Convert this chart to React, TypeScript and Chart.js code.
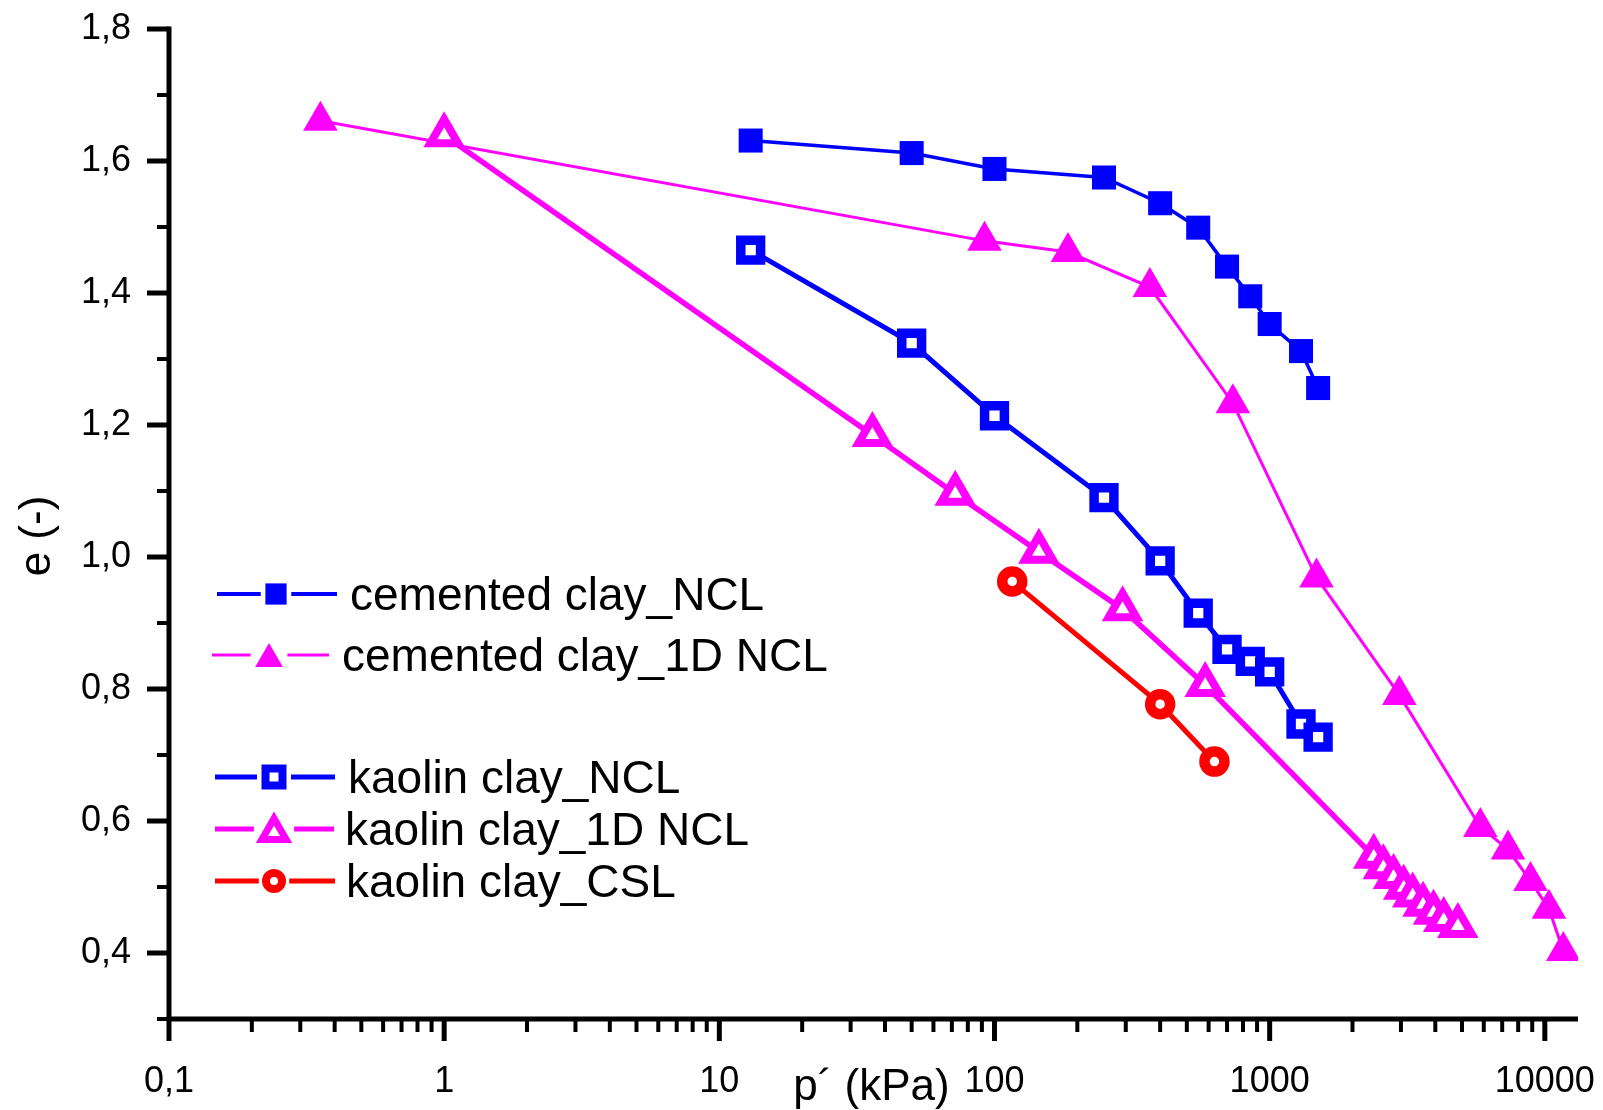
import React, { useEffect, useRef } from "react";
import { Chart, registerables } from "chart.js";

Chart.register(...registerables);

// ---- data: p' (kPa) and void ratio e (-) ----
const cementedNclP = [13, 50, 100, 250, 400, 550, 700, 850, 1000, 1300, 1500];
const cementedNclE = [1.631, 1.612, 1.588, 1.575, 1.536, 1.499, 1.44, 1.395, 1.353, 1.312, 1.256];

const cemented1dP = [0.355, 92, 185, 367, 735, 1480, 2960, 5830, 7350, 8870, 10350, 11670];
const cemented1dE = [1.661, 1.479, 1.462, 1.409, 1.233, 0.969, 0.791, 0.591, 0.557, 0.509, 0.467, 0.403];

const kaolinNclP = [13, 50, 100, 250, 400, 550, 700, 850, 1000, 1300, 1500];
const kaolinNclE = [1.465, 1.324, 1.214, 1.09, 0.994, 0.915, 0.86, 0.842, 0.826, 0.747, 0.727];

const kaolin1dP = [1, 36, 72, 145, 292, 583, 2390, 2590, 2820, 3070, 3310, 3610, 3940, 4290, 4830];
const kaolin1dE = [1.639, 1.185, 1.096, 1.008, 0.921, 0.806, 0.546, 0.53, 0.515, 0.499, 0.487, 0.473, 0.461, 0.45, 0.441];

const kaolinCslP = [116, 400, 630];
const kaolinCslE = [0.963, 0.777, 0.69];

const seriesLabels = [
  "cemented clay_NCL",
  "cemented clay_1D NCL",
  "kaolin clay_NCL",
  "kaolin clay_1D NCL",
  "kaolin clay_CSL",
];

const xMin = 0.1;
const xMax = 13200;
const yMin = 0.3;
const yMax = 1.8;
const xDecades = [0.1, 1, 10, 100, 1000, 10000];
const yTickTenths = [3, 4, 5, 6, 7, 8, 9, 10, 11, 12, 13, 14, 15, 16, 17, 18];

const xTitle = "p\u00B4 (kPa)";
const yTitle = "e (-)";

const BLUE = "#0000ff";
const MAGENTA = "#ff00ff";
const RED = "#ff0000";
const FONT = "'Liberation Sans', Arial, Helvetica, sans-serif";

const toPts = (xs: number[], ys: number[]) => xs.map((x, i) => ({ x, y: ys[i] }));

function isMajorX(v: number) {
  const l = Math.log10(v);
  return Math.abs(l - Math.round(l)) < 1e-9;
}

function drawMarker(ctx: CanvasRenderingContext2D, style: string, x: number, y: number, r: number, bw: number, fill: string, stroke: string) {
  ctx.beginPath();
  if (style === "rect") {
    const s = Math.SQRT1_2 * r;
    ctx.rect(x - s, y - s, 2 * s, 2 * s);
  } else if (style === "triangle") {
    let rad = 0;
    ctx.moveTo(x + Math.sin(rad) * r, y - Math.cos(rad) * r);
    rad += (2 * Math.PI) / 3;
    ctx.lineTo(x + Math.sin(rad) * r, y - Math.cos(rad) * r);
    rad += (2 * Math.PI) / 3;
    ctx.lineTo(x + Math.sin(rad) * r, y - Math.cos(rad) * r);
    ctx.closePath();
  } else {
    ctx.arc(x, y, r, 0, Math.PI * 2);
    ctx.closePath();
  }
  ctx.fillStyle = fill;
  ctx.fill();
  if (bw > 0) {
    ctx.lineWidth = bw;
    ctx.strokeStyle = stroke;
    ctx.lineJoin = "miter";
    ctx.stroke();
  }
}

const axesPlugin = {
  id: "customAxes",
  beforeDatasetsDraw(chart: any) {
    const { ctx, chartArea: a, scales } = chart;
    const xs = scales.x;
    const ys = scales.y;
    ctx.save();
    ctx.strokeStyle = "#000";
    ctx.lineCap = "butt";
    ctx.lineWidth = 5;
    ctx.beginPath();
    ctx.moveTo(a.left, a.top - 2.5);
    ctx.lineTo(a.left, a.bottom);
    ctx.stroke();
    ctx.beginPath();
    ctx.moveTo(a.left - 2.5, a.bottom);
    ctx.lineTo(a.right, a.bottom);
    ctx.stroke();
    xs.ticks.forEach((t: any) => {
      const px = xs.getPixelForValue(t.value);
      const major = isMajorX(t.value);
      ctx.lineWidth = major ? 5 : 4;
      ctx.beginPath();
      ctx.moveTo(px, a.bottom);
      ctx.lineTo(px, a.bottom + (major ? 22 : 13));
      ctx.stroke();
    });
    ys.ticks.forEach((t: any) => {
      const py = ys.getPixelForValue(t.value);
      const major = Math.round(t.value * 10) % 2 === 0;
      ctx.lineWidth = major ? 5 : 4;
      ctx.beginPath();
      ctx.moveTo(a.left, py);
      ctx.lineTo(a.left - (major ? 22 : 12), py);
      ctx.stroke();
    });
    ctx.restore();
  },
  afterDraw(chart: any) {
    const { ctx, chartArea: a } = chart;
    ctx.save();
    // axis titles
    ctx.fillStyle = "#000";
    ctx.font = `44px ${FONT}`;
    ctx.textAlign = "center";
    ctx.textBaseline = "middle";
    ctx.fillText(xTitle, (a.left + a.right) / 2 - 2, 1088);
    ctx.save();
    ctx.translate(38, 536);
    ctx.rotate(-Math.PI / 2);
    ctx.fillText(yTitle, 0, 0);
    ctx.restore();

    // legend inside the plot area
    const entries = [
      { ds: 0, y: 594, x1: 217, x2: 337, m: 276, tx: 350, r: 15, bw: 0, lw: 4 },
      { ds: 1, y: 655, x1: 212, x2: 329, m: 269, tx: 342, r: 16, bw: 0, lw: 3 },
      { ds: 2, y: 777, x1: 215, x2: 335, m: 274, tx: 348, r: 12, bw: 8, lw: 5 },
      { ds: 3, y: 829, x1: 215, x2: 334, m: 274, tx: 345, r: 14, bw: 7, lw: 5 },
      { ds: 4, y: 881, x1: 215, x2: 335, m: 274, tx: 346, r: 8, bw: 8, lw: 5 },
    ];
    entries.forEach((e) => {
      const d = chart.data.datasets[e.ds];
      const half = e.r * (d.pointStyle === "rect" ? 0.75 : 0.9) + e.bw / 2 + 4;
      ctx.strokeStyle = d.borderColor;
      ctx.lineWidth = e.lw;
      ctx.lineCap = "butt";
      ctx.beginPath();
      ctx.moveTo(e.x1, e.y);
      ctx.lineTo(e.m - half, e.y);
      ctx.moveTo(e.m + half, e.y);
      ctx.lineTo(e.x2, e.y);
      ctx.stroke();
      drawMarker(ctx, d.pointStyle, e.m, d.pointStyle === "triangle" ? e.y + e.r * 0.25 : e.y, e.r, e.bw, d.pointBackgroundColor, d.pointBorderColor);
      ctx.fillStyle = "#000";
      ctx.font = `46px ${FONT}`;
      ctx.textAlign = "left";
      ctx.textBaseline = "alphabetic";
      ctx.fillText(d.label, e.tx, e.y + 16);
    });
    ctx.restore();
  },
};

export default function App() {
  const ref = useRef<HTMLCanvasElement | null>(null);

  useEffect(() => {
    if (!ref.current) return;
    const xTickValues: number[] = [];
    xDecades.forEach((d) => {
      for (let k = 1; k <= 9; k++) {
        const v = parseFloat((d * k).toPrecision(6));
        if (v <= xMax) xTickValues.push(v);
      }
    });
    const yTickValues = yTickTenths.map((t) => t / 10);

    const chart = new Chart(ref.current, {
      type: "line",
      data: {
        datasets: [
          {
            label: seriesLabels[0],
            data: toPts(cementedNclP, cementedNclE),
            borderColor: BLUE,
            borderWidth: 3.5,
            pointStyle: "rect",
            pointRadius: 17,
            pointBorderWidth: 0,
            pointBackgroundColor: BLUE,
            pointBorderColor: BLUE,
          },
          {
            label: seriesLabels[1],
            data: toPts(cemented1dP, cemented1dE),
            borderColor: MAGENTA,
            borderWidth: 3,
            pointStyle: "triangle",
            pointRadius: 20,
            pointBorderWidth: 0,
            pointBackgroundColor: MAGENTA,
            pointBorderColor: MAGENTA,
          },
          {
            label: seriesLabels[2],
            data: toPts(kaolinNclP, kaolinNclE),
            borderColor: BLUE,
            borderWidth: 5,
            pointStyle: "rect",
            pointRadius: 14,
            pointBorderWidth: 9.5,
            pointBackgroundColor: "#ffffff",
            pointBorderColor: BLUE,
          },
          {
            label: seriesLabels[3],
            data: toPts(kaolin1dP, kaolin1dE),
            borderColor: MAGENTA,
            borderWidth: 5.5,
            pointStyle: "triangle",
            pointRadius: 16,
            pointBorderWidth: 8,
            pointBackgroundColor: "#ffffff",
            pointBorderColor: MAGENTA,
          },
          {
            label: seriesLabels[4],
            data: toPts(kaolinCslP, kaolinCslE),
            borderColor: RED,
            borderWidth: 5,
            pointStyle: "circle",
            pointRadius: 10,
            pointBorderWidth: 10.5,
            pointBackgroundColor: "#ffffff",
            pointBorderColor: RED,
          },
        ],
      },
      options: {
        responsive: false,
        animation: false,
        events: [],
        layout: { padding: { left: 0, right: 25, top: 29, bottom: 0 } },
        plugins: {
          legend: { display: false },
          tooltip: { enabled: false },
          title: { display: false },
        },
        scales: {
          x: {
            type: "logarithmic",
            min: xMin,
            max: xMax,
            grid: { display: false },
            border: { display: false },
            afterBuildTicks: (scale: any) => {
              scale.ticks = xTickValues.map((v) => ({ value: v, major: isMajorX(v) }));
            },
            afterFit: (scale: any) => {
              scale.height = 91;
              scale.paddingLeft = 0;
              scale.paddingRight = 0;
            },
            ticks: {
              autoSkip: false,
              maxRotation: 0,
              minRotation: 0,
              padding: 33,
              color: "#000",
              font: { family: FONT, size: 36 },
              callback: (value: any) => {
                const v = Number(value);
                if (!isMajorX(v)) return "";
                return v < 1 ? String(v).replace(".", ",") : String(Math.round(v));
              },
            },
          },
          y: {
            type: "linear",
            min: yMin,
            max: yMax,
            grid: { display: false },
            border: { display: false },
            afterBuildTicks: (scale: any) => {
              scale.ticks = yTickValues.map((v) => ({ value: v }));
            },
            afterFit: (scale: any) => {
              scale.width = 169;
              scale.paddingTop = 0;
              scale.paddingBottom = 0;
            },
            ticks: {
              autoSkip: false,
              padding: 30,
              color: "#000",
              font: { family: FONT, size: 36 },
              callback: (value: any) => {
                const t = Math.round(Number(value) * 10);
                if (t % 2 !== 0 || t < 4) return "";
                return (t / 10).toFixed(1).replace(".", ",");
              },
            },
          },
        },
      },
      plugins: [axesPlugin],
    } as any);
    return () => chart.destroy();
  }, []);

  return (
    <div style={{ position: "fixed", left: 0, top: 0, width: 1603, height: 1110, background: "#fff" }}>
      <canvas ref={ref} width={1603} height={1110} style={{ display: "block" }} />
    </div>
  );
}
